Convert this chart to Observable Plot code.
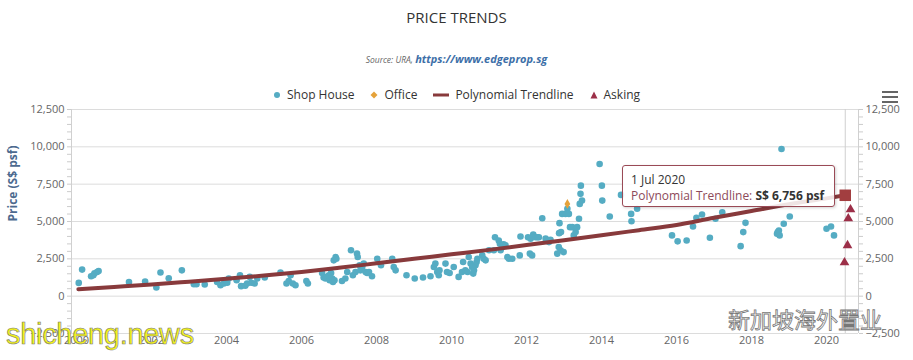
<!DOCTYPE html>
<html>
<head>
<meta charset="utf-8">
<script src="https://cdn.jsdelivr.net/npm/d3@7"></script>
<script src="https://cdn.jsdelivr.net/npm/@observablehq/plot@0.6"></script>
<style>
  body { margin: 0; background: #fff; }
  #wrap { position: relative; width: 913px; height: 360px; font-family: "Open Sans", sans-serif; overflow: hidden; }
  .abs { position: absolute; }
  #title { top: 6px; left: 0; width: 913px; text-align: center; font-size: 15px; color: #333; line-height: 22px; }
  #sub { top: 49px; left: 0; width: 913px; text-align: center; line-height: 16px; font-style: italic; }
  #sub .src { font-size: 8.5px; color: #666; }
  #sub .lnk { font-size: 11px; color: #3d6fa8; font-weight: bold; }
  #legend { top: 86px; left: 0; width: 913px; display: flex; justify-content: center; align-items: center; font-size: 12px; color: #333; z-index: 3; line-height: 18px; }
  #legend .item { display: flex; align-items: center; margin: 0 8px; }
  #legend svg { margin-right: 6px; }
  #chart { top: 100px; left: 0; z-index: 1; }
  #tip { left: 622px; top: 165px; width: 211px; height: 40px; border: 1px solid #9a4a56; border-radius: 3px; background: rgba(255,255,255,0.86); box-shadow: 1px 1px 3px rgba(0,0,0,0.18); z-index: 4; font-size: 12px; color: #333; }
  #tip .l1 { position: absolute; left: 8px; top: 5px; }
  #tip .l2 { position: absolute; left: 8px; top: 21px; white-space: nowrap; }
  #tip .l2 .nm { color: #8d4a5a; }
  #menu { left: 881px; top: 87px; z-index: 3; }
  #wm1 { left: 6px; top: 318px; font-family: "Liberation Sans", sans-serif; font-size: 29px; color: #f3f31c; -webkit-text-stroke: 0.6px #777; z-index: 5; letter-spacing: -0.3px; }
  #wm2 { left: 728px; top: 302px; font-family: "Noto Sans CJK SC", sans-serif; font-size: 22px; color: #fff; -webkit-text-stroke: 0.8px #777; z-index: 5; }
</style>
</head>
<body>
<div id="wrap">
  <div id="title" class="abs">PRICE TRENDS</div>
  <div id="sub" class="abs"><span class="src">Source: URA, </span><span class="lnk">https://www.edgeprop.sg</span></div>
  <div id="legend" class="abs"></div>
  <div id="menu" class="abs"><svg width="18" height="14"><path d="M1 2H17M1 7H17M1 12H17" stroke="#666" stroke-width="2.2"/></svg></div>
  <div id="chart" class="abs"></div>
  <div id="tip" class="abs"><div class="l1">1 Jul 2020</div><div class="l2"><span class="nm">Polynomial Trendline: </span><b>S$ 6,756 psf</b></div></div>
  <div id="wm1" class="abs">shicheng.news</div>
  <div id="wm2" class="abs">新加坡海外置业</div>
</div>
<script>
// ---- data (decimal years, S$ psf) ----
const shopYears = [
  2000.06, 2000.15, 2000.39, 2000.45, 2000.48, 2000.55, 2000.59, 2001.40, 2001.83, 2002.13,
  2002.24, 2002.46, 2002.81, 2003.13, 2003.20, 2003.42, 2003.75, 2003.84, 2003.93, 2004.02,
  2004.06, 2004.27, 2004.36, 2004.39, 2004.50, 2004.55, 2004.62, 2004.66, 2004.75, 2004.82,
  2005.02, 2005.44, 2005.60, 2005.66, 2005.71, 2005.77, 2005.84, 2006.13, 2006.17,
  2006.55, 2006.59, 2006.64, 2006.68, 2006.73, 2006.75, 2006.79, 2006.82, 2006.84, 2006.88,
  2006.86, 2006.91, 2006.93, 2007.08, 2007.17, 2007.22, 2007.32, 2007.37, 2007.44, 2007.48,
  2007.50, 2007.55, 2007.57, 2007.62, 2007.66, 2007.71, 2007.75, 2007.80, 2007.88,
  2008.02, 2008.12, 2008.42, 2008.46, 2008.51, 2008.80,
  2009.02, 2009.24, 2009.44, 2009.53, 2009.57, 2009.62, 2009.66, 2009.68, 2009.84, 2009.88, 2009.95,
  2010.06, 2010.19, 2010.28, 2010.31, 2010.37, 2010.43, 2010.46, 2010.51, 2010.55, 2010.58,
  2010.60, 2010.64, 2010.67, 2010.69, 2010.82, 2010.86, 2010.91,
  2011.00, 2011.13, 2011.16, 2011.26, 2011.29, 2011.31, 2011.35, 2011.39, 2011.44, 2011.49,
  2011.53, 2011.62, 2011.82, 2011.84,
  2012.04, 2012.09, 2012.11, 2012.15, 2012.18, 2012.24, 2012.29, 2012.33, 2012.42, 2012.51,
  2012.60, 2012.64, 2012.82, 2012.86, 2012.87, 2012.88, 2012.91, 2012.92, 2012.95, 2012.99,
  2013.04, 2013.09, 2013.13, 2013.16, 2013.22, 2013.26, 2013.31, 2013.35, 2013.40, 2013.42,
  2013.44, 2013.45, 2013.48, 2013.95, 2014.01, 2014.02, 2014.22, 2014.52, 2014.79, 2014.80,
  2014.95, 2015.88, 2016.03, 2016.27, 2016.44, 2016.53, 2016.68, 2016.89, 2017.04, 2017.22,
  2017.71, 2017.78, 2017.84, 2018.68, 2018.70, 2018.73, 2018.75, 2018.80, 2018.86, 2019.02,
  2020.00, 2020.12, 2020.20
];
const shopPrices = [
  890, 1780, 1330, 1400, 1530, 1620, 1690, 950, 980, 580,
  1580, 1200, 1730, 800, 800, 780, 950, 730, 850, 900,
  1180, 1070, 1400, 670, 700, 850, 1290, 900, 850, 1180,
  1250, 1580, 850, 1020, 1400, 850, 730, 1020, 850,
  1550, 1250, 1180, 1290, 1400, 1070, 1550, 1180, 950, 1070,
  2400, 2620, 2510, 1020, 1180, 1620, 3070, 1400, 1620, 2850,
  2620, 2070, 1730, 1950, 2180, 1620, 1550, 1620, 1330,
  2510, 2070, 2510, 1950, 1730, 1400,
  1180, 1250, 1330, 1950, 2180, 1620, 1400, 1730, 2180, 1620, 1550,
  1950, 1290, 1620, 2290, 1730, 1620, 2620, 2180, 1950, 1510,
  1730, 2070, 2290, 2510, 2730, 2510, 2400,
  3070, 3070, 3950, 3730, 3510, 3070, 3290, 3470, 3400, 2620,
  2510, 2510, 2730, 4000,
  3950, 2850, 3850, 2730, 4130, 3950, 3950, 3950, 5220, 3850,
  3620, 3780, 2850, 3290, 4220, 4890, 3070, 4290, 5510, 2950,
  5510, 5850, 5510, 4620, 4620, 4070, 4290, 4620, 5180, 6180,
  6850, 7400, 6400, 8850, 7400, 6400, 5330, 6780, 5510, 5020,
  5850, 4070, 3670, 3730, 4670, 5250, 5470, 3910, 5180, 5620,
  3350, 4290, 4910, 4180, 4290, 4400, 4070, 9850, 4850, 5330,
  4510, 4670, 4070
];
const officeYears = [2013.09];
const officePrices = [6180];
const askingYears = [2020.48, 2020.56, 2020.58, 2020.64];
const askingPrices = [2250, 3400, 5200, 5800];
const trendYears = [2000.05, 2001, 2002, 2003, 2004, 2005, 2006, 2007, 2008, 2009, 2010,
  2011, 2012, 2013, 2014, 2015, 2016, 2017, 2018, 2019, 2020, 2020.5];
const trendPrices = [470, 620, 780, 970, 1170, 1380, 1620, 1900, 2200, 2500, 2800,
  3100, 3420, 3750, 4080, 4420, 4760, 5250, 5700, 6150, 6550, 6756];
const tooltipYear = 2020.5;
const tooltipPrice = 6756;
const xTicks = [2000, 2002, 2004, 2006, 2008, 2010, 2012, 2014, 2016, 2018, 2020];
const yTicks = [-2500, 0, 2500, 5000, 7500, 10000, 12500];
const seriesNames = ["Shop House", "Office", "Polynomial Trendline", "Asking"];

const colors = {shop: "#55acc3", office: "#e5a23a", trend: "#883a3c", asking: "#9c2f48"};

const shop = shopYears.map((x, i) => ({x, y: shopPrices[i]}));
const office = officeYears.map((x, i) => ({x, y: officePrices[i]}));
const asking = askingYears.map((x, i) => ({x, y: askingPrices[i]}));
const trend = trendYears.map((x, i) => ({x, y: trendPrices[i]}));
const minor = d3.range(-2500, 12501, 500);
const xDomain = [1999.867, 2020.853];

const chart = Plot.plot({
  width: 913,
  height: 260,
  marginTop: 9,
  marginBottom: 27,
  marginLeft: 71,
  marginRight: 55,
  style: {fontFamily: "Open Sans, sans-serif", fontSize: "11px", background: "transparent", overflow: "visible"},
  x: {domain: xDomain, label: null},
  y: {domain: [-2500, 12500], label: null},
  marks: [
    Plot.gridY(yTicks, {stroke: "#dcdcdc", strokeOpacity: 1}),
    Plot.ruleX([xDomain[0], xDomain[1]], {stroke: "#d0d0d0"}),
    Plot.ruleX([tooltipYear], {stroke: "#cfcfcf"}),
    Plot.axisY(minor, {anchor: "left", tickSize: 4, text: null, label: null, stroke: "#cccccc"}),
    Plot.axisY(minor, {anchor: "right", tickSize: 4, text: null, label: null, stroke: "#cccccc"}),
    Plot.axisY(yTicks, {anchor: "left", tickSize: 0, tickPadding: 7, label: null, fill: "#666", tickFormat: d3.format(",")}),
    Plot.axisY(yTicks, {anchor: "right", tickSize: 0, tickPadding: 7, label: null, fill: "#666", tickFormat: d3.format(",")}),
    Plot.axisX(xTicks, {tickSize: 0, tickPadding: 3, label: null, fill: "#666", tickFormat: d => String(d)}),
    Plot.text(["Price (S$ psf)"], {frameAnchor: "left", dx: -58, rotate: -90, fill: "#4d6a8f", fontSize: 12, fontWeight: "bold"}),
    Plot.dot(shop, {x: "x", y: "y", r: 3.3, fill: colors.shop}),
    Plot.dot(office, {x: "x", y: "y", r: 3, symbol: "diamond", fill: colors.office}),
    Plot.line(trend, {x: "x", y: "y", stroke: colors.trend, strokeWidth: 4, curve: "monotone-x"}),
    Plot.dot(asking, {x: "x", y: "y", r: 3.6, symbol: "triangle", fill: colors.asking}),
    Plot.dot([{x: tooltipYear, y: tooltipPrice}], {x: "x", y: "y", r: 6.5, symbol: "square", fill: "#a23e40"})
  ]
});
document.getElementById("chart").appendChild(chart);

// legend
const leg = document.getElementById("legend");
const sym = [
  `<svg width="8" height="8"><circle cx="4" cy="4" r="3" fill="${colors.shop}"/></svg>`,
  `<svg width="8" height="8"><path d="M4 0.5L7.5 4L4 7.5L0.5 4Z" fill="${colors.office}"/></svg>`,
  `<svg width="16" height="8"><line x1="0" y1="4" x2="16" y2="4" stroke="${colors.trend}" stroke-width="3"/></svg>`,
  `<svg width="8" height="8"><path d="M4 0.5L7.5 7.5L0.5 7.5Z" fill="${colors.asking}"/></svg>`
];
seriesNames.forEach((n, i) => {
  const d = document.createElement("div");
  d.className = "item";
  d.innerHTML = sym[i] + `<span>${n}</span>`;
  leg.appendChild(d);
});
</script>
</body>
</html>
